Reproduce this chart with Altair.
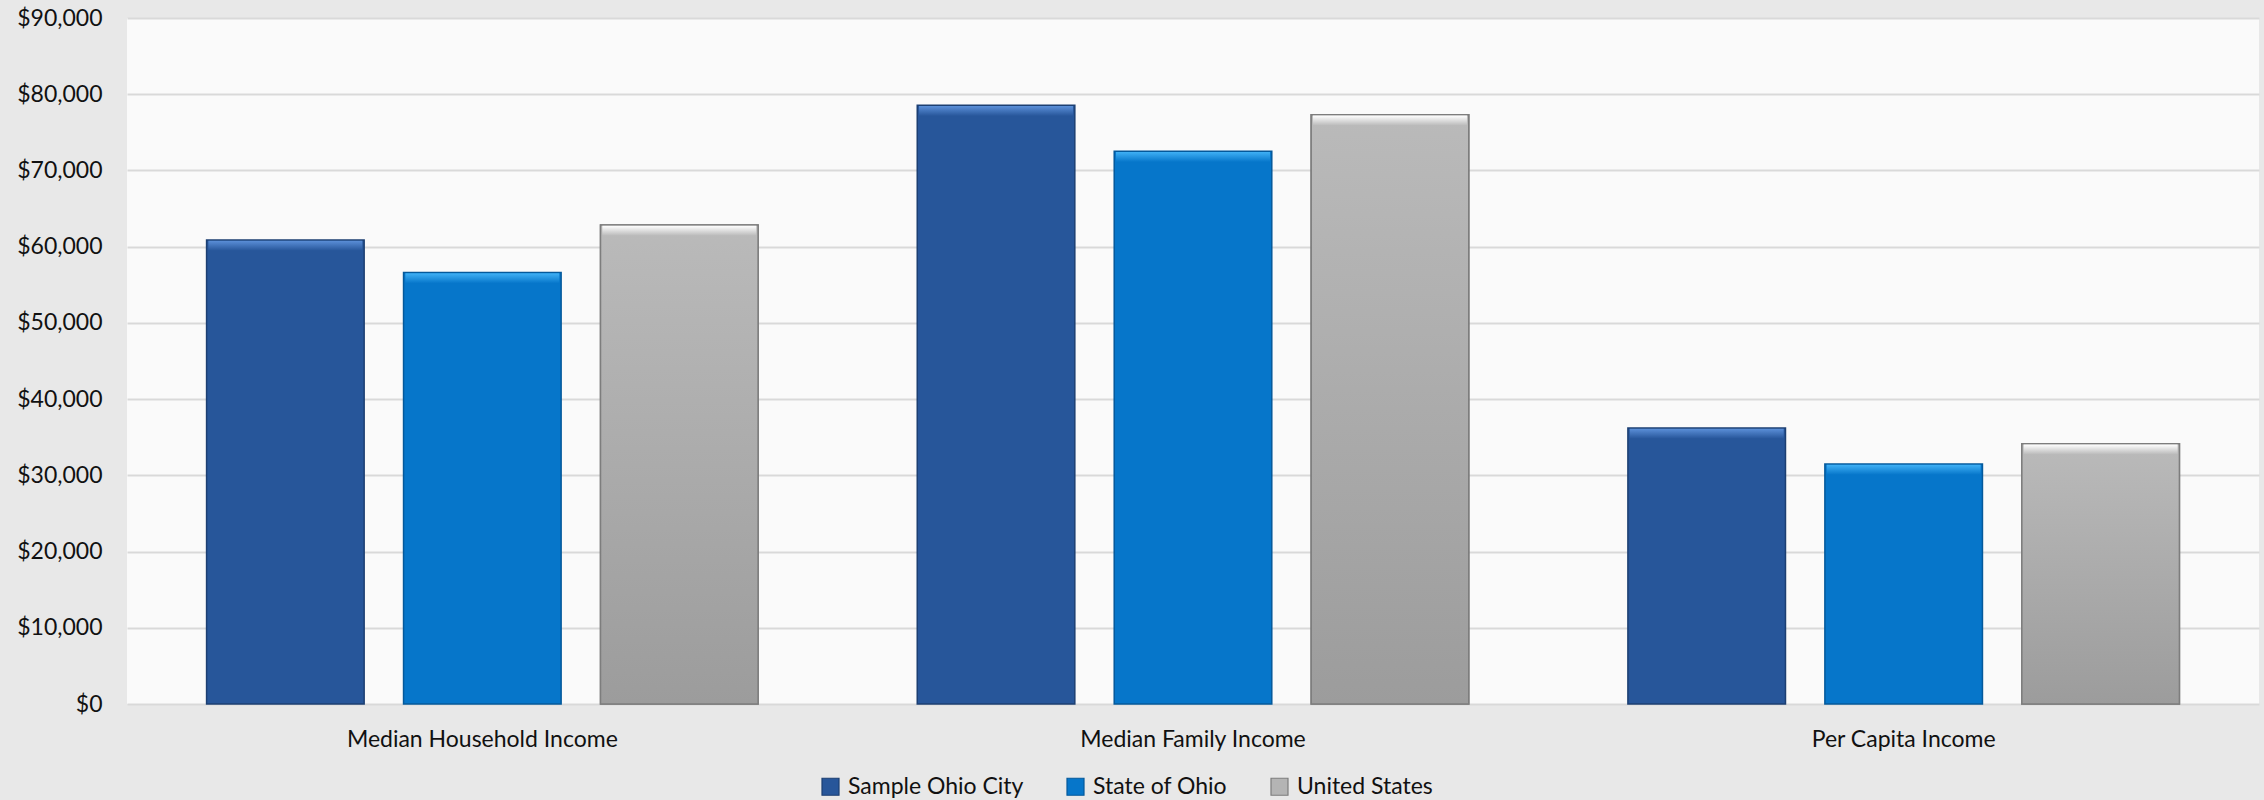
import altair as alt
import pandas as pd

categories = ["Median Household Income", "Median Family Income", "Per Capita Income"]
series = ["Sample Ohio City", "State of Ohio", "United States"]
city = [60880, 78550, 36210]
ohio = [56602, 72520, 31480]
us = [62843, 77300, 34150]

base_colors = ["#27569a", "#0676ca", "#b4b4b4"]
stroke_colors = ["#1c3f72", "#04599b", "#7d7d7d"]
highlight_colors = ["#5b8fd8", "#3fb0f5", "#ffffff"]

rows = []
for s, vals in zip(series, [city, ohio, us]):
    for c, v in zip(categories, vals):
        rows.append({"category": c, "series": s, "value": v})
df = pd.DataFrame(rows)

FONT = "Lato"

x_enc = alt.X("category:N", sort=categories, title=None,
              scale=alt.Scale(paddingInner=0, paddingOuter=0),
              axis=alt.Axis(labelAngle=0, labelFontSize=23, labelFont=FONT,
                            labelColor="#111111", labelPadding=24, grid=False,
                            domain=False, ticks=False, labelLimit=1000))
xo_enc = alt.XOffset("series:N", sort=series,
                     scale=alt.Scale(paddingInner=0.2, paddingOuter=0.404))
y_enc = alt.Y("value:Q", title=None,
              scale=alt.Scale(domain=[0, 90000], nice=False),
              axis=alt.Axis(values=list(range(0, 90001, 10000)), format="$,.0f",
                            labelFontSize=23, labelFont=FONT, labelColor="#111111",
                            labelPadding=25, domain=False, ticks=False,
                            gridColor="#d9d9d9", gridWidth=2))

base = alt.Chart(df).mark_bar(strokeWidth=1.5).encode(
    x=x_enc, xOffset=xo_enc, y=y_enc,
    color=alt.Color("series:N", sort=series,
                    scale=alt.Scale(domain=series, range=base_colors),
                    legend=alt.Legend(orient="none", legendX=692, legendY=757,
                                      direction="horizontal", title=None,
                                      symbolType="square", symbolSize=289,
                                      labelFontSize=23, labelFont=FONT,
                                      labelColor="#111111", labelOffset=6,
                                      labelLimit=1000,
                                      columnPadding=40, symbolStrokeWidth=1.2,
                                      symbolStrokeColor="#555555")),
    stroke=alt.Stroke("series:N", sort=series,
                      scale=alt.Scale(domain=series, range=stroke_colors),
                      legend=None),
)

gray_grad = alt.Chart(df).transform_filter(
    alt.datum.series == "United States"
).mark_bar(
    color=alt.Gradient(gradient="linear", x1=0, x2=0, y1=0, y2=1,
                       stops=[alt.GradientStop(offset=0, color="#bababa"),
                              alt.GradientStop(offset=1, color="#9c9c9c")]),
    stroke="#7d7d7d", strokeWidth=1.5,
).encode(x=x_enc, xOffset=xo_enc, y=y_enc)

layers = [base, gray_grad]
for s, hc, bc in zip(series, highlight_colors, base_colors):
    top_c = "#bababa" if s == "United States" else bc
    tick = alt.Chart(df).transform_filter(
        alt.datum.series == s
    ).mark_tick(
        size=154, thickness=10, yOffset=5.75,
        color=alt.Gradient(gradient="linear", x1=0, x2=0, y1=0, y2=1,
                           stops=[alt.GradientStop(offset=0, color=hc),
                                  alt.GradientStop(offset=1, color=top_c)]),
        opacity=1,
    ).encode(x=x_enc, xOffset=xo_enc, y=y_enc)
    layers.append(tick)

chart = alt.layer(*layers).properties(
    width=2132, height=686,
    autosize=alt.AutoSizeParams(type="none"),
    padding={"left": 127, "top": 18, "right": 5, "bottom": 96},
    background="#e8e8e8",
).configure_view(fill="#fafafa", stroke=None)

chart.save("out.html", embed_options={"renderer": "svg", "actions": False})
